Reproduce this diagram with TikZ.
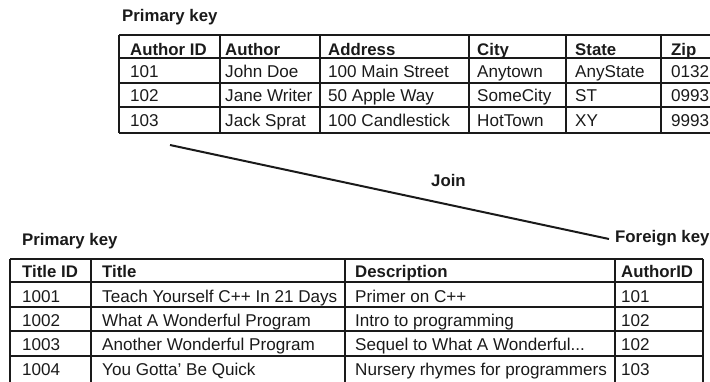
\documentclass[tikz,border=0pt]{standalone}
\usepackage{fontspec}
\setmainfont{Liberation Sans}
\definecolor{ink}{HTML}{1A1A1A}
\newcommand\seqtxt{Sequel to What A Wonderful...}
\begin{document}
\begin{tikzpicture}[x=1pt,y=-1pt,
  txt/.style={inner sep=0pt, anchor=base west, font=\fontsize{17.1}{19}\selectfont, text=ink},
  hd/.style={txt, font=\fontsize{16.8}{19}\selectfont\bfseries},
  gridline/.style={draw=ink, line width=1.8pt},
  joinline/.style={draw=ink, line width=2pt}]
\useasboundingbox (0,0) rectangle (710,381);

% ---------- top table (Authors) ----------
\foreach \y in {35,58,83,107,133} \draw[gridline] (119,\y) -- (740,\y);
\foreach \x in {119,220,320,469,566,661} \draw[gridline] (\x,35) -- (\x,133);

\node[hd] (pk1) at (122,21.5) {Primary key};

\foreach \x/\t [count=\i] in {130/Author ID,225/Author,328/Address,477/City,575/State,671/Zip}
  \node[hd] (ah\i) at (\x,55) {\t};
\foreach \x/\t [count=\i] in {130/101,225/John Doe,328/100 Main Street,477/Anytown,575/AnyState,671/0132}
  \node[txt] (ar1\i) at (\x,77.5) {\t};
\foreach \x/\t [count=\i] in {130/102,225/Jane Writer,328/50 Apple Way,477/SomeCity,575/ST,671/0993}
  \node[txt] (ar2\i) at (\x,101.5) {\t};
\foreach \x/\t [count=\i] in {130/103,225/Jack Sprat,328/100 Candlestick,477/HotTown,575/XY,671/9993}
  \node[txt] (ar3\i) at (\x,126.5) {\t};

% ---------- join ----------
\node[hd] (join) at (431,186.5) {Join};
\node[hd] (fk) at (615,242.5) {Foreign key};
\coordinate (j1) at (170,145);
\coordinate (j2) at (609,239);
\draw[joinline] (j1) -- (j2);

% ---------- bottom table (Titles) ----------
\node[hd] (pk2) at (22,245) {Primary key};
\foreach \y in {259,282,307,331,356} \draw[gridline] (10,\y) -- (703,\y);
\foreach \x in {10,91,345,615,703} \draw[gridline] (\x,259) -- (\x,395);

\foreach \x/\t [count=\i] in {22/Title ID,102/Title,355/Description,621/AuthorID}
  \node[hd] (th\i) at (\x,277) {\t};
\foreach \x/\t [count=\i] in {22/1001,102/Teach Yourself C++ In 21 Days,355/Primer on C++,621/101}
  \node[txt] (tr1\i) at (\x,302.5) {\t};
\foreach \x/\t [count=\i] in {22/1002,102/What A Wonderful Program,355/Intro to programming,621/102}
  \node[txt] (tr2\i) at (\x,326.5) {\t};
\foreach \x/\t [count=\i] in {22/1003,102/Another Wonderful Program,355/\seqtxt,621/102}
  \node[txt] (tr3\i) at (\x,350.5) {\t};
\foreach \x/\t [count=\i] in {22/1004,102/You Gotta’ Be Quick,355/Nursery rhymes for programmers,621/103}
  \node[txt] (tr4\i) at (\x,375.5) {\t};
\end{tikzpicture}
\end{document}
